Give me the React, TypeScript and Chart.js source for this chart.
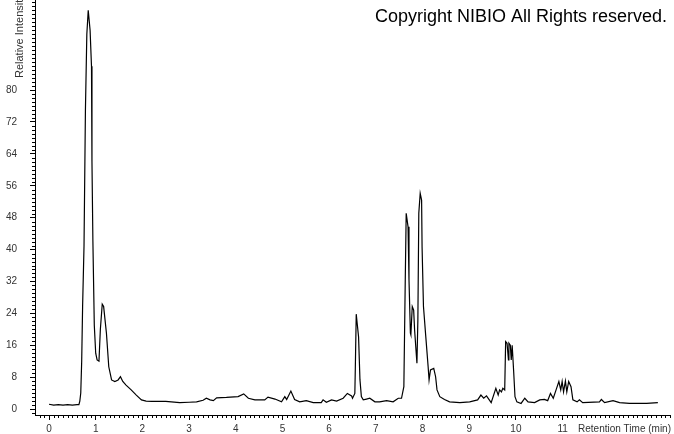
import React, { useEffect, useRef } from 'react';
import { Chart, registerables } from 'chart.js';

Chart.register(...registerables);

const retentionTimes = [
  0.0, 0.1, 0.2, 0.3, 0.4, 0.5, 0.6, 0.64, 0.66, 0.68, 0.7, 0.72, 0.75, 0.78, 0.81, 0.84,
  0.88, 0.91, 0.92, 0.94, 0.97, 1.0, 1.03, 1.07, 1.1, 1.14, 1.17, 1.23, 1.28, 1.34, 1.41,
  1.48, 1.53, 1.58, 1.65, 1.76, 1.87, 1.98, 2.08, 2.2, 2.5, 2.8, 3.0, 3.16, 3.3, 3.37, 3.45,
  3.52, 3.59, 3.8, 4.05, 4.17, 4.27, 4.41, 4.62, 4.69, 4.84, 4.98, 5.05, 5.09, 5.18, 5.26,
  5.37, 5.51, 5.66, 5.83, 5.87, 5.94, 6.05, 6.16, 6.3, 6.39, 6.48, 6.5, 6.55, 6.56, 6.58,
  6.6, 6.63, 6.66, 6.69, 6.73, 6.8, 6.87, 6.98, 7.08, 7.23, 7.37, 7.48, 7.55, 7.6, 7.63,
  7.65, 7.69, 7.71, 7.74, 7.75, 7.78, 7.81, 7.83, 7.87, 7.88, 7.9, 7.92, 7.95, 7.98, 7.99,
  8.02, 8.07, 8.12, 8.14, 8.17, 8.24, 8.28, 8.31, 8.37, 8.47, 8.58, 8.8, 9.01, 9.18, 9.25,
  9.31, 9.37, 9.47, 9.57, 9.62, 9.65, 9.69, 9.72, 9.76, 9.78, 9.81, 9.84, 9.85, 9.88, 9.9,
  9.92, 9.95, 9.98, 10.02, 10.11, 10.19, 10.26, 10.4, 10.51, 10.61, 10.68, 10.74, 10.8,
  10.86, 10.92, 10.96, 10.99, 11.02, 11.06, 11.09, 11.13, 11.18, 11.22, 11.31, 11.36,
  11.43, 11.79, 11.83, 11.9, 12.08, 12.22, 12.43, 12.8, 13.04,
];

const intensities = [
  1.2, 1.0, 1.1, 1.0, 1.1, 1.0, 1.1, 1.1, 2.0, 4.0, 12, 26, 41, 75, 94, 100,
  95, 86, 62, 42, 21, 14, 12.3, 12, 20, 26.3, 25.7, 19, 10.6, 7.3, 6.9,
  7.3, 8.1, 6.9, 6.0, 4.8, 3.5, 2.3, 2.0, 1.9, 1.9, 1.6, 1.7, 1.8, 2.2, 2.7, 2.3,
  2.1, 2.8, 2.9, 3.1, 3.8, 2.7, 2.3, 2.3, 3.0, 2.5, 1.8, 3.1, 2.4, 4.5, 2.4,
  1.8, 2.1, 1.6, 1.6, 2.3, 1.7, 2.3, 2.0, 2.7, 3.9, 3.3, 2.7, 3.9, 10, 23.8,
  21.5, 18.1, 7.3, 3.1, 2.3, 2.5, 2.7, 1.8, 1.8, 2.1, 1.8, 2.7, 2.7, 5.6, 32.4,
  49.1, 45.7, 32.4, 19, 18.6, 25.7, 24.8, 19.8, 13.1, 11.5, 22.3, 49.1, 54.1, 52.4, 40.7,
  25.7, 18.1, 10.6, 7.3, 9.8, 10.2, 8.1, 4.8, 3.1, 2.4, 1.8, 1.6, 1.8, 2.3, 3.5,
  2.7, 3.3, 1.6, 5.2, 3.5, 4.8, 4.3, 5.2, 4.8, 16.9, 16.5, 12.3, 16.5, 16, 12.3,
  16, 9.8, 3.1, 1.8, 1.4, 2.7, 1.8, 1.6, 2.3, 2.4, 2.1, 3.9, 2.7,
  4.8, 6.9, 4.8, 6.9, 4.3, 7.0, 4.3, 6.9, 5.6, 2.3, 1.8, 2.3,
  1.6, 1.8, 2.4, 1.6, 2.1, 1.6, 1.4, 1.4, 1.6,
];

const xTickValues = [0, 1, 2, 3, 4, 5, 6, 7, 8, 9, 10, 11];
const yTickValues = [0, 8, 16, 24, 32, 40, 48, 56, 64, 72, 80];
const xMinorStep = 0.1;
const yMinorStep = 1;

const copyrightText = 'Copyright NIBIO All Rights reserved.';
const yTitle = 'Relative Intensity';
const xTitle = 'Retention Time (min)';

const FONT = '"Liberation Sans", Arial, sans-serif';

export default function App() {
  const ref = useRef<HTMLCanvasElement>(null);

  useEffect(() => {
    if (!ref.current) return;

    const overlay = {
      id: 'overlay',
      afterDraw(chart: any) {
        const ctx = chart.ctx;
        const xs = chart.scales.x;
        const ys = chart.scales.y;
        const area = chart.chartArea;
        ctx.save();
        ctx.strokeStyle = '#000';
        ctx.lineWidth = 1;
        ctx.beginPath();
        for (let v = Math.ceil(ys.min); v <= ys.max; v += yMinorStep) {
          if (yTickValues.includes(v)) continue;
          const py = Math.round(ys.getPixelForValue(v)) + 0.5;
          ctx.moveTo(area.left - 3, py);
          ctx.lineTo(area.left, py);
        }
        const start = Math.ceil(xs.min / xMinorStep);
        const end = Math.floor(xs.max / xMinorStep);
        for (let i = start; i <= end; i++) {
          const v = i * xMinorStep;
          if (i % 10 === 0 && xTickValues.includes(i / 10)) continue;
          const px = Math.round(xs.getPixelForValue(v)) + 0.5;
          ctx.moveTo(px, area.bottom);
          ctx.lineTo(px, area.bottom + 3);
        }
        ctx.stroke();

        ctx.fillStyle = '#333';
        ctx.font = `11px ${FONT}`;
        ctx.save();
        ctx.translate(23, 78);
        ctx.rotate(-Math.PI / 2);
        ctx.textAlign = 'left';
        ctx.textBaseline = 'alphabetic';
        ctx.fillText(yTitle, 0, 0);
        ctx.restore();

        ctx.font = `10px ${FONT}`;
        ctx.textAlign = 'right';
        ctx.textBaseline = 'alphabetic';
        ctx.fillText(xTitle, 671, 432);

        ctx.fillStyle = '#000';
        ctx.font = `18px ${FONT}`;
        ctx.textAlign = 'right';
        ctx.fillText(copyrightText, 667, 22);
        ctx.restore();
      },
    };

    const chart = new Chart(ref.current, {
      type: 'line',
      data: {
        datasets: [
          {
            data: retentionTimes.map((t, i) => ({ x: t, y: intensities[i] })),
            borderColor: '#000',
            borderWidth: 1.2,
            pointRadius: 0,
            tension: 0,
            fill: false,
          },
        ],
      },
      options: {
        animation: false,
        responsive: false,
        events: [],
        layout: { autoPadding: false, padding: { left: 0, top: 0, right: 4, bottom: 0 } },
        plugins: {
          legend: { display: false },
          tooltip: { enabled: false },
          title: { display: false },
        },
        scales: {
          x: {
            type: 'linear',
            min: -0.3,
            max: 13.3,
            afterBuildTicks: (s: any) => {
              s.ticks = xTickValues.map((v) => ({ value: v }));
            },
            afterFit: (s: any) => {
              s.height = 19;
              s.paddingLeft = 0;
              s.paddingRight = 0;
              s.paddingTop = 0;
              s.paddingBottom = 0;
            },
            grid: { drawOnChartArea: false, drawTicks: true, tickLength: 5, color: '#000' },
            border: { display: true, color: '#000', width: 1 },
            ticks: {
              color: '#333',
              font: { size: 10, family: FONT },
              padding: 3,
              maxRotation: 0,
              autoSkip: false,
              callback: (v: any) => String(v),
            },
          },
          y: {
            type: 'linear',
            min: -1.5,
            max: 102.6,
            afterBuildTicks: (s: any) => {
              s.ticks = yTickValues.map((v) => ({ value: v }));
            },
            afterFit: (s: any) => {
              s.width = 35;
              s.paddingLeft = 0;
              s.paddingRight = 0;
              s.paddingTop = 0;
              s.paddingBottom = 0;
            },
            grid: { drawOnChartArea: false, drawTicks: true, tickLength: 5, color: '#000' },
            border: { display: true, color: '#000', width: 1 },
            ticks: {
              color: '#333',
              font: { size: 10, family: FONT },
              padding: 13,
              autoSkip: false,
              callback: (v: any) => String(v),
            },
          },
        },
      },
      plugins: [overlay],
    } as any);

    return () => chart.destroy();
  }, []);

  return (
    <div style={{ position: 'fixed', left: 0, top: 0, width: 674, height: 434, background: '#fff' }}>
      <canvas ref={ref} width={674} height={434} style={{ display: 'block' }} />
    </div>
  );
}
